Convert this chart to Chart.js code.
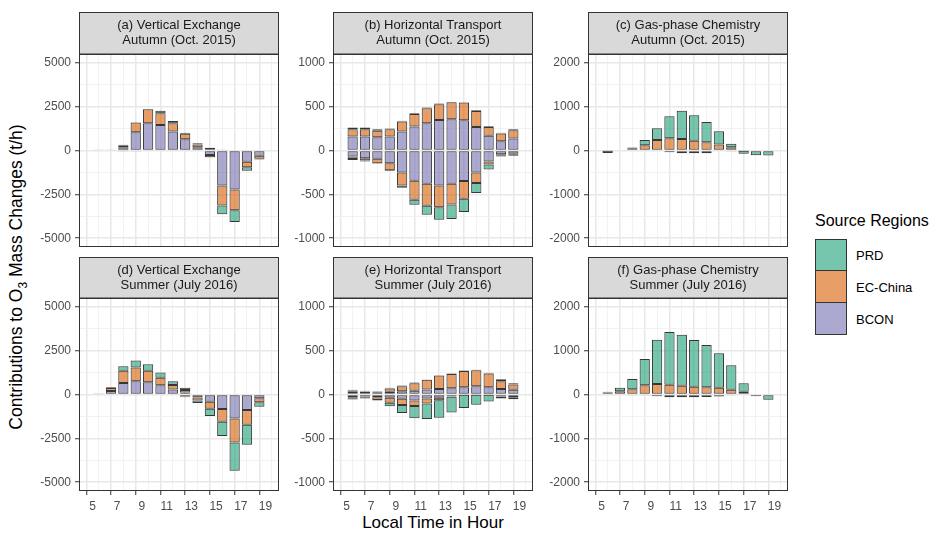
<!DOCTYPE html>
<html>
<head>
<meta charset="utf-8">
<script src="https://cdn.jsdelivr.net/npm/chart.js@4.4.1/dist/chart.umd.min.js"></script>
<style>
  body { margin: 0; background: #fff; }
  #wrap { position: relative; width: 944px; height: 533px; overflow: hidden; font-family: "Liberation Sans", Arial, sans-serif; }
  canvas { position: absolute; }
  .ytitle { position: absolute; left: 18px; top: 277px; transform: translate(-50%, -50%) rotate(-90deg); white-space: nowrap; font-size: 17.5px; color: #000; }
  .xtitle { position: absolute; left: 433px; top: 523px; transform: translate(-50%, -50%); white-space: nowrap; font-size: 17px; color: #000; }
  .legend { position: absolute; left: 815px; top: 212px; }
  .legend .lt { font-size: 16px; color: #000; margin-bottom: 9px; }
  .legend .row { display: flex; align-items: center; height: 32px; }
  .legend .key { width: 32px; height: 32px; border: 1px solid #333; box-sizing: border-box; margin-right: 9px; }
  .legend .row + .row .key { border-top: none; height: 32px; }
  .legend .lab { font-size: 13px; color: #000; }
</style>
</head>
<body>
<div id="wrap">
  <div class="ytitle">Contributions to O<sub style="font-size:12px">3</sub> Mass Changes (t/h)</div>
  <div class="xtitle">Local Time in Hour</div>
  <div class="legend" id="legend"></div>
</div>
<script>
// hours (bars sit between the integer ticks)
var hours = [5.5, 6.5, 7.5, 8.5, 9.5, 10.5, 11.5, 12.5, 13.5, 14.5, 15.5, 16.5, 17.5, 18.5];
var regions = ["PRD", "EC-China", "BCON"];

// (a) vertical exchange, autumn
var aBconPos = [30, 50, 190, 1040, 1550, 1460, 1080, 640, 190, 150, 60, 0, 0, 0];
var aBconNeg = [0, 0, -20, -30, 0, 0, 0, 0, 0, -250, -1990, -2220, -640, -300];
var aEcPos   = [0, 10, 110, 550, 800, 660, 470, 320, 150, 0, 0, 0, 0, 0];
var aEcNeg   = [0, 0, 0, 0, 0, 0, 0, 0, 0, -130, -1140, -1190, -320, -170];
var aPrdPos  = [0, 0, 30, 20, 20, 150, 130, 50, 70, 0, 0, 0, 0, 0];
var aPrdNeg  = [0, 0, 0, 0, 0, 0, 0, 0, 0, -20, -510, -660, -190, -50];

// (b) horizontal transport, autumn
var bBconPos = [159, 159, 152, 159, 216, 273, 311, 349, 356, 345, 269, 167, 106, 136];
var bBconNeg = [-68, -87, -95, -144, -250, -345, -380, -398, -380, -349, -250, -125, -42, -38];
var bEcPos   = [83, 83, 72, 83, 114, 144, 170, 178, 193, 201, 182, 102, 87, 95];
var bEcNeg   = [-30, -27, -49, -80, -148, -216, -250, -250, -235, -201, -121, -34, -19, -11];
var bPrdPos  = [19, 19, 19, 8, 8, 8, 8, 8, 4, 4, 8, 8, 8, 10];
var bPrdNeg  = [-11, -11, -8, -11, -27, -57, -102, -140, -167, -152, -114, -57, -8, -10];

// (c) gas-phase chemistry, autumn
var cBconPos = [0, 0, 0, 0, 0, 0, 0, 0, 0, 0, 0, 0, 0, 0];
var cBconNeg = [0, 0, 0, 0, -15, -40, -60, -60, -60, -15, -10, 0, 0, 0];
var cEcPos   = [0, 15, 53, 121, 242, 280, 265, 220, 190, 136, 76, 0, 0, 0];
var cEcNeg   = [-5, 0, 0, 0, 0, 0, 0, 0, 0, 0, 0, -5, 0, 0];
var cPrdPos  = [0, 0, 15, 121, 265, 500, 644, 584, 462, 303, 76, 0, 0, 0];
var cPrdNeg  = [-50, 0, 0, 0, 0, 0, 0, 0, 0, 0, 0, -70, -106, -114];

// (d) vertical exchange, summer
var dBconPos = [30, 200, 660, 750, 700, 530, 280, 110, 0, 0, 0, 0, 0, 0];
var dBconNeg = [0, 0, 0, 0, 0, 0, -40, -120, -170, -410, -830, -1370, -880, -210];
var dEcPos   = [10, 170, 700, 790, 660, 430, 260, 150, 0, 0, 0, 0, 0, 0];
var dEcNeg   = [0, 0, 0, 0, 0, 0, 0, -40, -170, -400, -730, -1370, -850, -230];
var dPrdPos  = [0, 40, 245, 395, 360, 300, 210, 130, 0, 0, 0, 0, 0, 0];
var dPrdNeg  = [0, 0, 0, 0, 0, 0, 0, 0, -150, -410, -810, -1600, -1130, -260];

// (e) horizontal transport, summer
var eBconPos = [30, 30, 19, 30, 38, 42, 57, 64, 72, 83, 95, 83, 64, 53];
var eBconNeg = [-30, -23, -30, -38, -49, -68, -45, -38, -23, -4, -4, -4, -23, -30];
var eEcPos   = [15, 8, 15, 38, 57, 87, 110, 152, 163, 186, 182, 155, 87, 61];
var eEcNeg   = [-19, -15, -34, -57, -72, -64, -57, -27, -4, 0, 0, 0, 0, 0];
var ePrdPos  = [8, 4, 4, 8, 8, 8, 4, 4, 4, 4, 4, 11, 23, 15];
var ePrdNeg  = [-8, -8, -4, -38, -91, -140, -178, -200, -178, -150, -114, -76, -23, -23];

// (f) gas-phase chemistry, summer
var fBconPos = [0, 0, 0, 0, 0, 0, 0, 0, 0, 0, 0, 0, 0, 0];
var fBconNeg = [0, 0, -10, -20, -40, -60, -60, -60, -55, -45, -20, 0, 0, 0];
var fEcPos   = [45, 76, 121, 212, 242, 220, 197, 174, 167, 152, 106, 60, 0, 0];
var fEcNeg   = [0, 0, 0, 0, 0, 0, 0, 0, 0, 0, 0, 0, 0, 0];
var fPrdPos  = [15, 76, 235, 600, 1008, 1205, 1167, 1068, 962, 788, 560, 197, 0, 0];
var fPrdNeg  = [0, 0, 0, 0, 0, 0, 0, 0, 0, 0, 0, 0, -38, -121];

var colPrd = "rgba(27,158,119,0.6)";
var colEc = "rgba(217,95,2,0.6)";
var colBcon = "rgba(117,112,179,0.6)";

var panels = [
  { title: ["(a) Vertical Exchange", "Autumn (Oct. 2015)"], col: 0, row: 0, step: 2500, bcon: [aBconPos, aBconNeg], ec: [aEcPos, aEcNeg], prd: [aPrdPos, aPrdNeg] },
  { title: ["(b) Horizontal Transport", "Autumn (Oct. 2015)"], col: 1, row: 0, step: 500, bcon: [bBconPos, bBconNeg], ec: [bEcPos, bEcNeg], prd: [bPrdPos, bPrdNeg] },
  { title: ["(c) Gas-phase Chemistry", "Autumn (Oct. 2015)"], col: 2, row: 0, step: 1000, bcon: [cBconPos, cBconNeg], ec: [cEcPos, cEcNeg], prd: [cPrdPos, cPrdNeg] },
  { title: ["(d) Vertical Exchange", "Summer (July 2016)"], col: 0, row: 1, step: 2500, bcon: [dBconPos, dBconNeg], ec: [dEcPos, dEcNeg], prd: [dPrdPos, dPrdNeg] },
  { title: ["(e) Horizontal Transport", "Summer (July 2016)"], col: 1, row: 1, step: 500, bcon: [eBconPos, eBconNeg], ec: [eEcPos, eEcNeg], prd: [ePrdPos, ePrdNeg] },
  { title: ["(f) Gas-phase Chemistry", "Summer (July 2016)"], col: 2, row: 1, step: 1000, bcon: [fBconPos, fBconNeg], ec: [fEcPos, fEcNeg], prd: [fPrdPos, fPrdNeg] }
];

// layout of the facets on the page
var colLeft = [79, 333, 588];
var stripTop = [12, 257];
var plotTop = [54, 298];
var plotBottom = [247, 491];

Chart.defaults.font.family = '"Liberation Sans", Arial, sans-serif';
Chart.defaults.color = "#4d4d4d";

function pts(arr) {
  return hours.map(function (h, i) { return { x: h, y: arr[i] === 0 ? null : arr[i] }; });
}

function ds(arr, color) {
  return {
    data: pts(arr),
    backgroundColor: color,
    borderColor: "rgba(20,20,20,0.85)",
    borderWidth: 1,
    borderSkipped: false,
    stack: "s",
    barPercentage: 0.83,
    categoryPercentage: 1
  };
}

var facetPlugin = {
  id: "facet",
  afterDraw: function (chart) {
    var ctx = chart.ctx, a = chart.chartArea, p = chart.options.plugins.facet;
    ctx.save();
    // strip
    ctx.fillStyle = "#d9d9d9";
    ctx.fillRect(a.left, 0.5, a.right - a.left, a.top - 0.5);
    ctx.strokeStyle = "#333";
    ctx.lineWidth = 1;
    ctx.strokeRect(a.left + 0.5, 0.5, a.right - a.left - 1, a.top - 0.5);
    ctx.fillStyle = "#1a1a1a";
    ctx.font = '13px "Liberation Sans", Arial, sans-serif';
    ctx.textAlign = "center";
    ctx.textBaseline = "middle";
    var mid = a.top / 2, cx = (a.left + a.right) / 2;
    ctx.fillText(p.title[0], cx, mid - 7.5);
    ctx.fillText(p.title[1], cx, mid + 7.5);
    // panel border
    ctx.strokeStyle = "#333";
    ctx.strokeRect(a.left + 0.5, a.top + 0.5, a.right - a.left - 1, a.bottom - a.top - 1);
    ctx.restore();
  }
};

var wrap = document.getElementById("wrap");

panels.forEach(function (p) {
  var bottomRow = p.row === 1;
  var cv = document.createElement("canvas");
  var w = 264;
  var h = plotBottom[p.row] - stripTop[p.row] + (bottomRow ? 30 : 2);
  cv.width = w; cv.height = h;
  cv.style.left = (colLeft[p.col] - 60) + "px";
  cv.style.top = stripTop[p.row] + "px";
  cv.style.width = w + "px"; cv.style.height = h + "px";
  wrap.appendChild(cv);

  var M = p.step;
  var lim = 2.2 * M;

  new Chart(cv, {
    type: "bar",
    data: {
      datasets: [
        ds(p.bcon[0], colBcon), ds(p.bcon[1], colBcon),
        ds(p.ec[0], colEc), ds(p.ec[1], colEc),
        ds(p.prd[0], colPrd), ds(p.prd[1], colPrd)
      ]
    },
    options: {
      responsive: false,
      animation: false,
      devicePixelRatio: 1,
      layout: { padding: { top: plotTop[p.row] - stripTop[p.row], left: 0, right: 4, bottom: bottomRow ? 0 : 2 } },
      plugins: { legend: { display: false }, tooltip: { enabled: false }, facet: { title: p.title } },
      scales: {
        x: {
          type: "linear",
          stacked: true,
          min: 4.45,
          max: 19.55,
          afterBuildTicks: function (s) {
            var t = [];
            for (var v = 5; v <= 19; v++) t.push({ value: v });
            s.ticks = t;
          },
          afterFit: function (s) { s.height = bottomRow ? 30 : 0; s.paddingLeft = 0; s.paddingRight = 0; },
          border: { display: false },
          grid: {
            color: function (c) { return c.tick && c.tick.value % 2 === 1 ? "#e8e8e8" : "#efefef"; },
            lineWidth: function (c) { return c.tick && c.tick.value % 2 === 1 ? 1.5 : 0.8; },
            drawTicks: bottomRow,
            tickLength: 4,
            tickColor: function (c) { return c.tick && c.tick.value % 2 === 1 ? "#333" : "rgba(0,0,0,0)"; },
            tickWidth: 1
          },
          ticks: {
            display: bottomRow,
            padding: 4,
            maxRotation: 0,
            autoSkip: false,
            font: { size: 12 },
            color: "#4d4d4d",
            callback: function (v) { return v % 2 === 1 ? String(v) : ""; }
          }
        },
        y: {
          stacked: true,
          min: -lim,
          max: lim,
          afterBuildTicks: function (s) {
            var t = [];
            for (var k = -4; k <= 4; k++) t.push({ value: k * M / 2 });
            s.ticks = t;
          },
          afterFit: function (s) { s.width = 60; s.paddingTop = 0; s.paddingBottom = 0; },
          border: { display: false },
          grid: {
            color: function (c) { return c.tick && c.tick.value % M === 0 ? "#e8e8e8" : "#efefef"; },
            lineWidth: function (c) { return c.tick && c.tick.value % M === 0 ? 1.5 : 0.8; },
            drawTicks: true,
            tickLength: 4,
            tickColor: function (c) { return c.tick && c.tick.value % M === 0 ? "#333" : "rgba(0,0,0,0)"; },
            tickWidth: 1
          },
          ticks: {
            padding: 4,
            autoSkip: false,
            font: { size: 12 },
            color: "#4d4d4d",
            callback: function (v) { return v % M === 0 ? String(v) : ""; }
          }
        }
      }
    },
    plugins: [facetPlugin]
  });
});

// legend
var lg = document.getElementById("legend");
var lcol = { "PRD": colPrd, "EC-China": colEc, "BCON": colBcon };
var html = '<div class="lt">Source Regions</div>';
regions.forEach(function (r) {
  html += '<div class="row"><div class="key" style="background:' + lcol[r] + '"></div><div class="lab">' + r + '</div></div>';
});
lg.innerHTML = html;
</script>
</body>
</html>
